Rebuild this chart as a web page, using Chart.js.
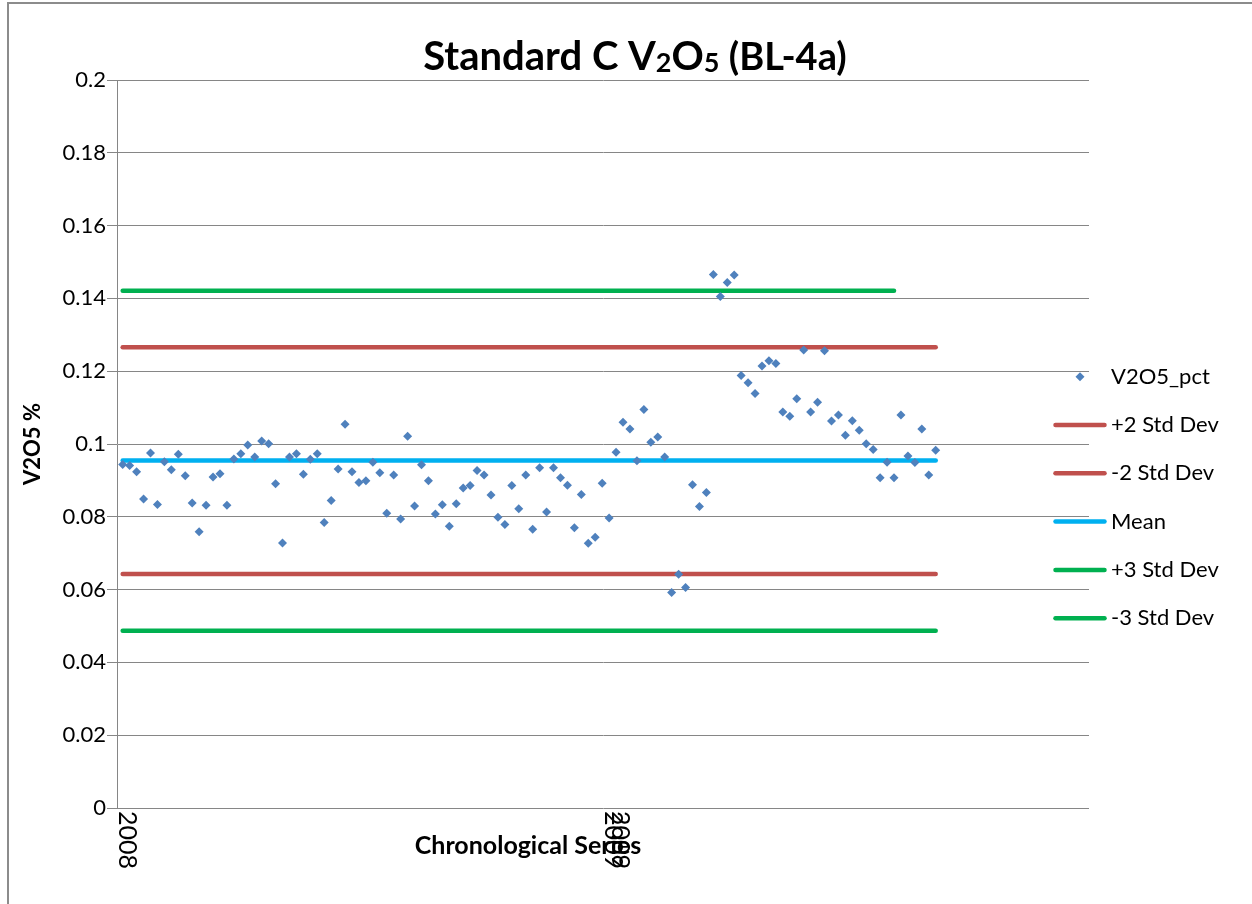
<!DOCTYPE html>
<html>
<head>
<meta charset="utf-8">
<script src="https://cdn.jsdelivr.net/npm/chart.js@4.4.0/dist/chart.umd.min.js"></script>
<style>
html,body{margin:0;padding:0;background:#fff;}
canvas{display:block;}
</style>
</head>
<body>
<canvas id="c" width="1252" height="904"></canvas>
<script>
// ---------- data ----------
const seriesName = 'V2O5_pct';
const v2o5Values = [
  0.0944,0.0941,0.0924,0.0849,0.0975,0.0834,0.0951,0.0929,0.0972,0.0913,
  0.0838,0.0759,0.0832,0.0909,0.0918,0.0832,0.0959,0.0973,0.0997,0.0964,
  0.1008,0.1001,0.0891,0.0728,0.0964,0.0973,0.0917,0.0958,0.0973,0.0784,
  0.0845,0.0931,0.1054,0.0924,0.0894,0.0899,0.0950,0.0921,0.0810,0.0915,
  0.0794,0.1021,0.0830,0.0943,0.0899,0.0808,0.0833,0.0774,0.0836,0.0879,
  0.0886,0.0927,0.0915,0.0860,0.0799,0.0779,0.0886,0.0822,0.0915,0.0766,
  0.0935,0.0813,0.0935,0.0907,0.0887,0.0770,0.0861,0.0727,0.0744,0.0892,
  0.0797,0.0977,0.1060,0.1041,0.0954,0.1095,0.1005,0.1019,0.0964,0.0592,
  0.0642,0.0606,0.0888,0.0828,0.0867,0.1466,0.1405,0.1444,0.1464,0.1188,
  0.1168,0.1139,0.1214,0.1229,0.1221,0.1088,0.1076,0.1124,0.1258,0.1088,
  0.1115,0.1256,0.1063,0.1080,0.1024,0.1064,0.1038,0.1001,0.0985,0.0907,
  0.0950,0.0907,0.1080,0.0967,0.0949,0.1041,0.0915,0.0983
];
const limitNames  = ['+2 Std Dev','-2 Std Dev','Mean','+3 Std Dev','-3 Std Dev'];
const limitValues = [0.1266, 0.0643, 0.0955, 0.1421, 0.0487];
const limitFirstIndex = [0, 0, 0, 0, 0];
const limitLastIndex  = [117, 117, 117, 111, 117];
const xTickIndex  = [0, 70, 71];
const xTickLabels = ['2008', '2009', '2009'];
const yTickValues = [0, 0.02, 0.04, 0.06, 0.08, 0.1, 0.12, 0.14, 0.16, 0.18, 0.2];
const yTickLabels = ['0', '0.02', '0.04', '0.06', '0.08', '0.1', '0.12', '0.14', '0.16', '0.18', '0.2'];

// ---------- styles ----------
const FONT = 'Lato, "Open Sans", sans-serif';
const pointColor = '#4F81BD';
const limitColors = ['#C0504D', '#C0504D', '#00B0F0', '#00B050', '#00B050'];
const gridColor = '#868686';

const datasets = [{
  label: seriesName,
  data: v2o5Values.map((v, i) => ({x: i, y: v})),
  showLine: false,
  pointStyle: 'rectRot',
  pointRadius: 4.5,
  pointHoverRadius: 4.5,
  pointBackgroundColor: pointColor,
  pointBorderColor: pointColor,
  pointBorderWidth: 0
}];
limitNames.forEach((name, k) => {
  datasets.push({
    label: name,
    type: 'line',
    data: [{x: limitFirstIndex[k], y: limitValues[k]}, {x: limitLastIndex[k], y: limitValues[k]}],
    borderColor: limitColors[k],
    backgroundColor: limitColors[k],
    borderWidth: 4.5,
    borderCapStyle: 'round',
    pointRadius: 0,
    fill: false
  });
});

const decor = {
  id: 'decor',
  beforeDraw(chart) {
    const ctx = chart.ctx;
    ctx.save();
    ctx.fillStyle = '#fff';
    ctx.fillRect(0, 0, chart.width, chart.height);
    ctx.strokeStyle = '#8c8c8c';
    ctx.lineWidth = 2;
    ctx.beginPath();
    ctx.moveTo(8, chart.height + 5);
    ctx.lineTo(8, 3);
    ctx.lineTo(chart.width + 5, 3);
    ctx.stroke();
    ctx.restore();
  },
  afterDraw(chart) {
    const ctx = chart.ctx;
    const xs = chart.scales.x;
    const area = chart.chartArea;
    ctx.save();
    ctx.fillStyle = '#000';
    // x tick labels, rotated clockwise
    ctx.font = '25px ' + FONT;
    ctx.textAlign = 'left';
    ctx.textBaseline = 'middle';
    xTickIndex.forEach((idx, k) => {
      const px = xs.getPixelForValue(idx) + 4;
      ctx.save();
      ctx.translate(px, area.bottom + 3);
      ctx.rotate(Math.PI / 2);
      ctx.fillText(xTickLabels[k], 0, 0);
      ctx.restore();
    });
    // x axis title
    ctx.font = 'bold 25px ' + FONT;
    ctx.textAlign = 'center';
    ctx.textBaseline = 'middle';
    ctx.fillText('Chronological Series', 528, 846);

    // chart title with subscripts
    const parts = [
      {t: 'Standard C V', s: 40, dy: 0},
      {t: '2', s: 27, dy: 2},
      {t: 'O', s: 40, dy: 0},
      {t: '5', s: 27, dy: 2},
      {t: ' (BL-4a)', s: 38, dy: 0}
    ];
    let total = 0;
    parts.forEach(p => { ctx.font = 'bold ' + p.s + 'px ' + FONT; p.w = ctx.measureText(p.t).width; total += p.w; });
    let x = 635 - total / 2;
    ctx.textAlign = 'left';
    ctx.textBaseline = 'alphabetic';
    parts.forEach(p => {
      ctx.font = 'bold ' + p.s + 'px ' + FONT;
      ctx.fillText(p.t, x, 70 + p.dy);
      x += p.w;
    });

    // legend
    const lx0 = 1055.5, lx1 = 1104.5, tx = 1111;
    ctx.font = '22px ' + FONT;
    ctx.textBaseline = 'middle';
    chart.data.datasets.forEach((ds, i) => {
      const y = 376.7 + i * 48.3;
      if (i === 0) {
        const r = 4.5, cx = (lx0 + lx1) / 2;
        ctx.fillStyle = pointColor;
        ctx.beginPath();
        ctx.moveTo(cx, y - r); ctx.lineTo(cx + r, y); ctx.lineTo(cx, y + r); ctx.lineTo(cx - r, y);
        ctx.closePath(); ctx.fill();
      } else {
        ctx.strokeStyle = ds.borderColor;
        ctx.lineWidth = ds.borderWidth;
        ctx.lineCap = 'round';
        ctx.beginPath(); ctx.moveTo(lx0, y); ctx.lineTo(lx1, y); ctx.stroke();
      }
      ctx.fillStyle = '#000';
      ctx.fillText(ds.label, tx, y);
    });
    ctx.restore();
  }
};

new Chart(document.getElementById('c'), {
  type: 'scatter',
  data: {datasets},
  options: {
    responsive: false,
    devicePixelRatio: 1,
    animation: false,
    events: [],
    layout: {padding: {left: 0, top: 80, right: 163, bottom: 96}},
    plugins: {legend: {display: false}, title: {display: false}, tooltip: {enabled: false}},
    scales: {
      x: {type: 'linear', display: false, min: -0.82, max: 139.06},
      y: {
        type: 'linear', min: 0, max: 0.2,
        afterBuildTicks(s) { s.ticks = yTickValues.map(v => ({value: v})); },
        afterFit(s) { s.width = 117; },
        ticks: {
          callback: (v) => yTickLabels[yTickValues.indexOf(+v.toFixed(2))] ?? String(v),
          font: {family: FONT, size: 22}, color: '#000', padding: 1
        },
        grid: {color: gridColor, lineWidth: 1, tickLength: 10, drawTicks: true},
        border: {color: gridColor, width: 1},
        title: {display: true, text: 'V2O5 %', color: '#000', font: {family: FONT, size: 22, weight: 'bold'}, padding: {top: 20, bottom: 0}}
      }
    }
  },
  plugins: [decor]
});
</script>
</body>
</html>
